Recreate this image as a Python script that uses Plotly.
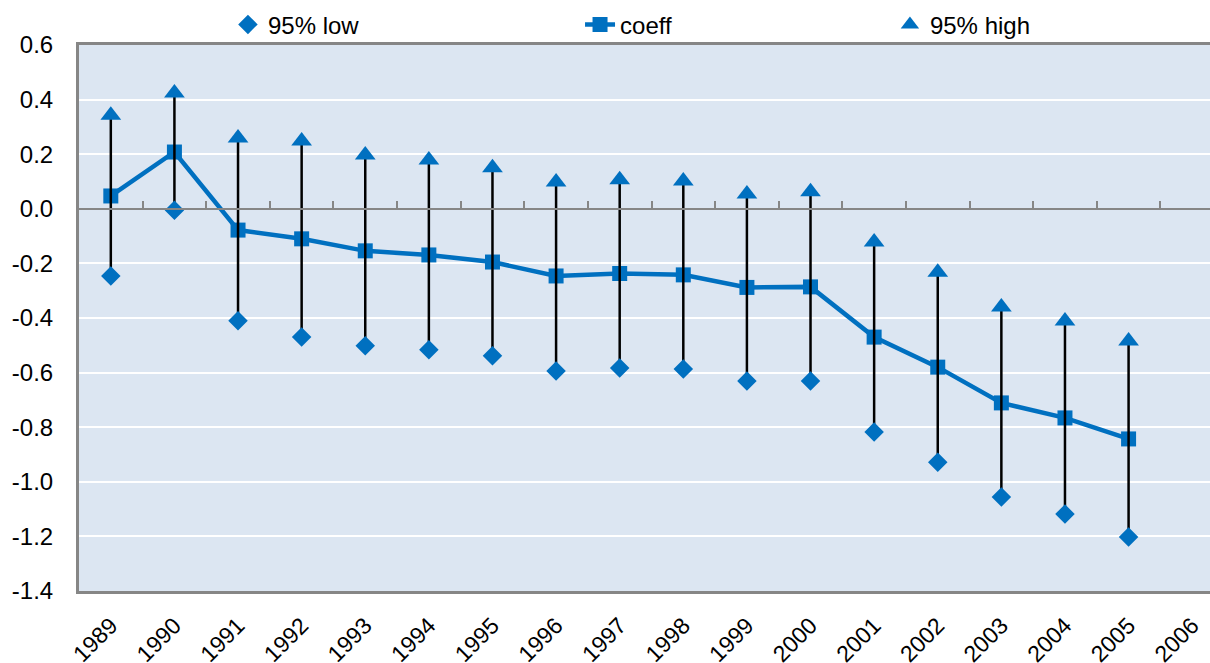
import plotly.graph_objects as go

# anos (2006 aparece no eixo mas sem dados)
years = [str(y) for y in range(1989, 2007)]
data_years = years[:-1]

coeff = [0.047, 0.208, -0.078, -0.11, -0.154, -0.169, -0.195, -0.246, -0.237,
         -0.242, -0.288, -0.286, -0.47, -0.58, -0.711, -0.766, -0.843]
low95 = [-0.246, -0.005, -0.41, -0.47, -0.502, -0.516, -0.538, -0.594, -0.583,
         -0.587, -0.631, -0.631, -0.818, -0.928, -1.056, -1.118, -1.202]
high95 = [0.343, 0.424, 0.259, 0.248, 0.197, 0.179, 0.15, 0.098, 0.106,
          0.102, 0.054, 0.062, -0.122, -0.232, -0.36, -0.411, -0.484]

ytick_vals = [0.6, 0.4, 0.2, 0.0, -0.2, -0.4, -0.6, -0.8, -1.0, -1.2, -1.4]
ytick_text = ['0.6', '0.4', '0.2', '0.0', '-0.2', '-0.4', '-0.6', '-0.8', '-1.0', '-1.2', '-1.4']

blue = '#0070C0'
gray = '#868686'

# linhas verticais low-high
wx, wy = [], []
for yr, lo, hi in zip(data_years, low95, high95):
    wx += [yr, yr, None]
    wy += [lo, hi, None]

fig = go.Figure()
fig.add_trace(go.Scatter(x=data_years, y=coeff, name='coeff', mode='lines+markers',
                         line=dict(color=blue, width=4.5),
                         marker=dict(symbol='square', size=15, color=blue),
                         legend='legend2'))
fig.add_trace(go.Scatter(x=wx, y=wy, mode='lines', xaxis='x2', showlegend=False,
                         line=dict(color='black', width=2.5), hoverinfo='skip'))
fig.add_trace(go.Scatter(x=data_years, y=low95, name='95% low', mode='markers', xaxis='x2',
                         marker=dict(symbol='diamond', size=15, color=blue),
                         legend='legend'))
fig.add_trace(go.Scatter(x=data_years, y=high95, name='95% high', mode='markers', xaxis='x2',
                         marker=dict(symbol='triangle-up', size=18, color=blue),
                         legend='legend3'))

leg = dict(orientation='h', y=1.037, yanchor='middle', xanchor='left',
           font=dict(size=24), bgcolor='rgba(0,0,0,0)')

xr = [-0.5, 17.28]
fig.update_layout(
    width=1210, height=663,
    margin=dict(l=79, r=0, t=45, b=72, autoexpand=False),
    paper_bgcolor='white', plot_bgcolor='#DCE6F2',
    font=dict(family='Liberation Sans, Arial, sans-serif', size=24, color='black'),
    legend=dict(leg, x=0.1317),
    legend2=dict(leg, x=0.443),
    legend3=dict(leg, x=0.717),
    xaxis=dict(type='category', categoryorder='array', categoryarray=years, range=xr,
               showgrid=False, showline=True, linecolor=gray, linewidth=3, mirror=True,
               ticks='outside', ticklen=9, tickcolor='rgba(0,0,0,0)',
               tickangle=-45, tickfont=dict(size=23)),
    xaxis2=dict(type='category', categoryorder='array', categoryarray=years, range=xr,
                overlaying='x', anchor='free', position=0.7, side='bottom',
                showgrid=False, showline=True, linecolor=gray, linewidth=2,
                ticks='inside', ticklen=7, tickwidth=2, tickcolor=gray,
                tickson='boundaries', showticklabels=False),
    yaxis=dict(range=[-1.4, 0.6], tickvals=ytick_vals, ticktext=ytick_text,
               showgrid=True, gridcolor='white', gridwidth=2, zeroline=False,
               showline=True, linecolor=gray, linewidth=3,
               ticks='outside', ticklen=18, tickcolor='rgba(0,0,0,0)',
               tickfont=dict(size=24)),
)

# sem margem do body para a figura ocupar a janela toda
fig.write_html('out.html', config={'displayModeBar': False},
               post_script="document.body.style.margin='0';")
